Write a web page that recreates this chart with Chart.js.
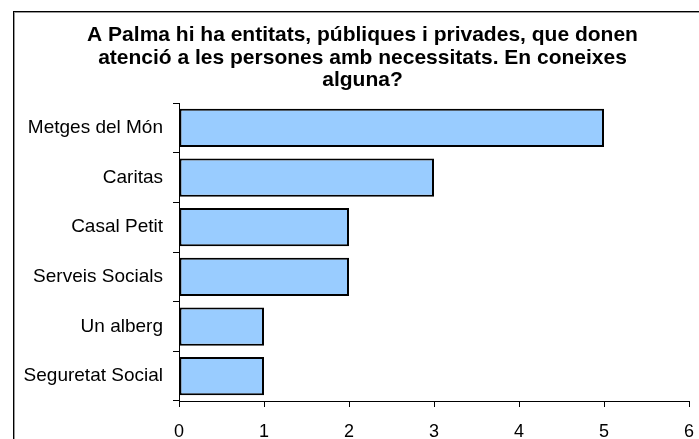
<!DOCTYPE html>
<html>
<head>
<meta charset="UTF-8">
<title>Entitats</title>
<script src="https://cdn.jsdelivr.net/npm/chart.js@4.4.1/dist/chart.umd.min.js"></script>
<style>
  html, body { margin: 0; padding: 0; background: #fff; }
</style>
</head>
<body>
<canvas id="canvas" width="699" height="439"></canvas>
<script>
var titleLines = [
  'A Palma hi ha entitats, públiques i privades, que donen',
  'atenció a les persones amb necessitats. En coneixes',
  'alguna?'
];
var categories = ['Metges del Món', 'Caritas', 'Casal Petit', 'Serveis Socials', 'Un alberg', 'Seguretat Social'];
var values = [5, 3, 2, 2, 1, 1];
var xTicks = [0, 1, 2, 3, 4, 5, 6];

// marco exterior del gráfico (se sale por la derecha y por abajo)
var frame = {
  id: 'frame',
  afterLayout: function(chart) {
    // el título del original está un poco desplazado a la derecha
    var t = chart.titleBlock;
    var shift = 362.5 - (t.left + t.right) / 2;
    t.left += shift;
    t.right += shift;
  },
  beforeDraw: function(chart) {
    var c = chart.ctx;
    c.save();
    c.strokeStyle = '#999';
    c.lineWidth = 1;
    c.strokeRect(14.5, 12.5, 720, 460);
    c.strokeStyle = '#000';
    c.strokeRect(13.5, 11.5, 720, 460);
    c.restore();
  }
};

new Chart(document.getElementById('canvas'), {
  type: 'bar',
  data: {
    labels: categories,
    datasets: [{
      data: values,
      backgroundColor: '#99ccff',
      borderColor: '#000',
      borderWidth: 2,
      borderSkipped: false,
      barPercentage: 0.77,
      categoryPercentage: 1
    }]
  },
  options: {
    indexAxis: 'y',
    responsive: false,
    animation: false,
    devicePixelRatio: 1,
    layout: { padding: 0 },
    plugins: {
      legend: { display: false },
      tooltip: { enabled: false },
      title: {
        display: true,
        text: titleLines,
        color: '#000',
        font: { family: 'Liberation Sans, Arial', size: 21, weight: 'bold', lineHeight: 1.08 },
        padding: { top: 24, bottom: 11 }
      }
    },
    scales: {
      x: {
        type: 'linear',
        min: 0,
        max: 6,
        afterBuildTicks: function(s) { s.ticks = xTicks.map(function(v) { return { value: v }; }); },
        afterFit: function(s) { s.height = 38; s.paddingLeft = 0; s.paddingRight = 10; },
        grid: { drawOnChartArea: false, tickLength: 6, color: '#000' },
        border: { color: '#000', width: 1 },
        ticks: { color: '#000', padding: 14, font: { family: 'Liberation Sans, Arial', size: 18 } }
      },
      y: {
        afterFit: function(s) { s.width = 179; },
        grid: { drawOnChartArea: false, tickLength: 6, color: '#000' },
        border: { color: '#000', width: 1 },
        ticks: { color: '#000', padding: 10, font: { family: 'Liberation Sans, Arial', size: 19 } }
      }
    }
  },
  plugins: [frame]
});
</script>
</body>
</html>
